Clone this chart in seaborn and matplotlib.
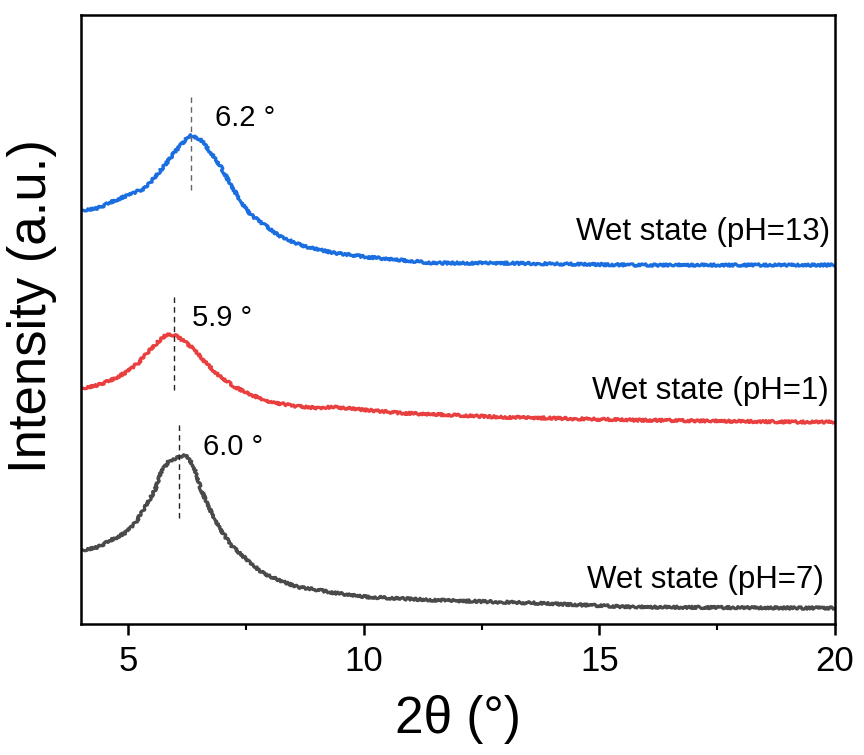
import matplotlib
matplotlib.use("Agg")
import matplotlib.pyplot as plt
import seaborn as sns
import pandas as pd
from matplotlib.ticker import MultipleLocator

# Data (intensity in arbitrary units, curves already vertically offset)
x_ph13 = [4.04, 4.36, 4.64, 5.0, 5.36, 5.57, 5.78, 5.99, 6.21, 6.33, 6.55, 6.76, 6.97, 7.18, 7.4, 7.61, 7.9, 8.18,
          8.54, 8.88, 9.39, 10.07, 11.47, 12.89, 15.71, 19.26, 20.0]
y_ph13 = [414, 416, 422, 429, 436, 447, 459, 472, 484, 489, 484, 471, 457, 439, 422, 409, 399, 389,
          381, 376, 371, 367, 361, 361, 359, 359, 359]

x_ph1 = [4.04, 4.36, 4.64, 4.93, 5.21, 5.42, 5.63, 5.8, 5.99, 6.21, 6.42, 6.63, 6.91, 7.27, 7.61, 8.03, 8.54,
         9.03, 9.35, 10.77, 12.89, 15.71, 19.26, 20.0]
y_ph1 = [236, 239, 244, 251, 261, 272, 282, 289, 289, 282, 274, 262, 249, 237, 229, 222, 218,
         216, 217, 211, 207, 204, 202, 202]

x_ph7 = [4.04, 4.36, 4.64, 4.93, 5.15, 5.36, 5.57, 5.7, 5.85, 6.06, 6.21, 6.38, 6.55, 6.76, 6.97, 7.18, 7.48,
         7.82, 8.18, 8.6, 9.03, 9.39, 10.07, 11.47, 13.59, 15.71, 19.26, 20.0]
y_ph7 = [74, 77, 84, 91, 101, 117, 134, 152, 162, 167, 169, 159, 134, 112, 94, 79, 66,
         52, 44, 37, 34, 31, 27, 24, 21, 17, 16, 16]

labels = ["Wet state (pH=13)", "Wet state (pH=1)", "Wet state (pH=7)"]
colors = ["#1a6ee0", "#ea3f3f", "#4a4a4a"]
peak_pos = [6.33, 5.97, 6.08]
peak_text = ["6.2 °", "5.9 °", "6.0 °"]
xticks = [5, 10, 15, 20]

sns.set_theme(style="ticks")
plt.rcParams['font.family'] = ['Liberation Sans', 'DejaVu Sans']
plt.rcParams['text.color'] = 'black'
plt.rcParams['axes.labelcolor'] = 'black'
plt.rcParams['xtick.color'] = 'black'
plt.rcParams['xtick.labelcolor'] = 'black'

fig = plt.figure(figsize=(8.64, 7.55), dpi=100)
ax = fig.add_axes([0.0938, 0.1735, 0.8726, 0.8065])

series = [(x_ph13, y_ph13), (x_ph1, y_ph1), (x_ph7, y_ph7)]
for (xs, ys), lab, c in zip(series, labels, colors):
    df = pd.DataFrame({"x": xs, "y": ys})
    sns.lineplot(data=df, x="x", y="y", ax=ax, color=c, linewidth=2.3, legend=False)
for ln in ax.get_lines():
    ln.set_sketch_params(scale=1.2, length=2.5, randomness=4)

# dashed peak markers
ax.vlines(peak_pos[0], 434, 529, colors="#666666", linestyles=(0, (4, 3)), linewidth=1.0)
ax.vlines(peak_pos[1], 234, 329, colors="#222222", linestyles=(0, (4, 3)), linewidth=1.0)
ax.vlines(peak_pos[2], 106, 202, colors="#222222", linestyles=(0, (4, 3)), linewidth=1.0)

ax.text(6.84, 506, peak_text[0], fontsize=21, va="center", ha="left", color="black")
ax.text(6.36, 306, peak_text[1], fontsize=21, va="center", ha="left", color="black")
ax.text(6.59, 177, peak_text[2], fontsize=21, va="center", ha="left", color="black")

ax.text(19.9, 392, labels[0], fontsize=22.5, va="center", ha="right", color="black")
ax.text(19.87, 233, labels[1], fontsize=22.5, va="center", ha="right", color="black")
ax.text(19.77, 44, labels[2], fontsize=22.5, va="center", ha="right", color="black")

ax.set_xlim(4, 20)
ax.set_ylim(0, 609)
ax.set_xticks(xticks)
ax.set_xticklabels([str(t) for t in xticks])
ax.xaxis.set_minor_locator(MultipleLocator(2.5))
ax.set_yticks([])
ax.tick_params(axis="x", which="major", direction="out", length=8, width=1.8, labelsize=25, pad=7,
               colors="black")
ax.tick_params(axis="x", which="minor", direction="out", length=4, width=1.5, colors="black")

for s in ax.spines.values():
    s.set_visible(True)
    s.set_linewidth(1.8)
    s.set_color("black")

ax.set_xlabel("2θ (°)", fontsize=37, labelpad=12, color="black")
ax.set_ylabel("Intensity (a.u.)", fontsize=38, color="black")
ax.yaxis.set_label_coords(-0.032, 0.522)

fig.savefig("out.png", dpi=100, facecolor="white")
